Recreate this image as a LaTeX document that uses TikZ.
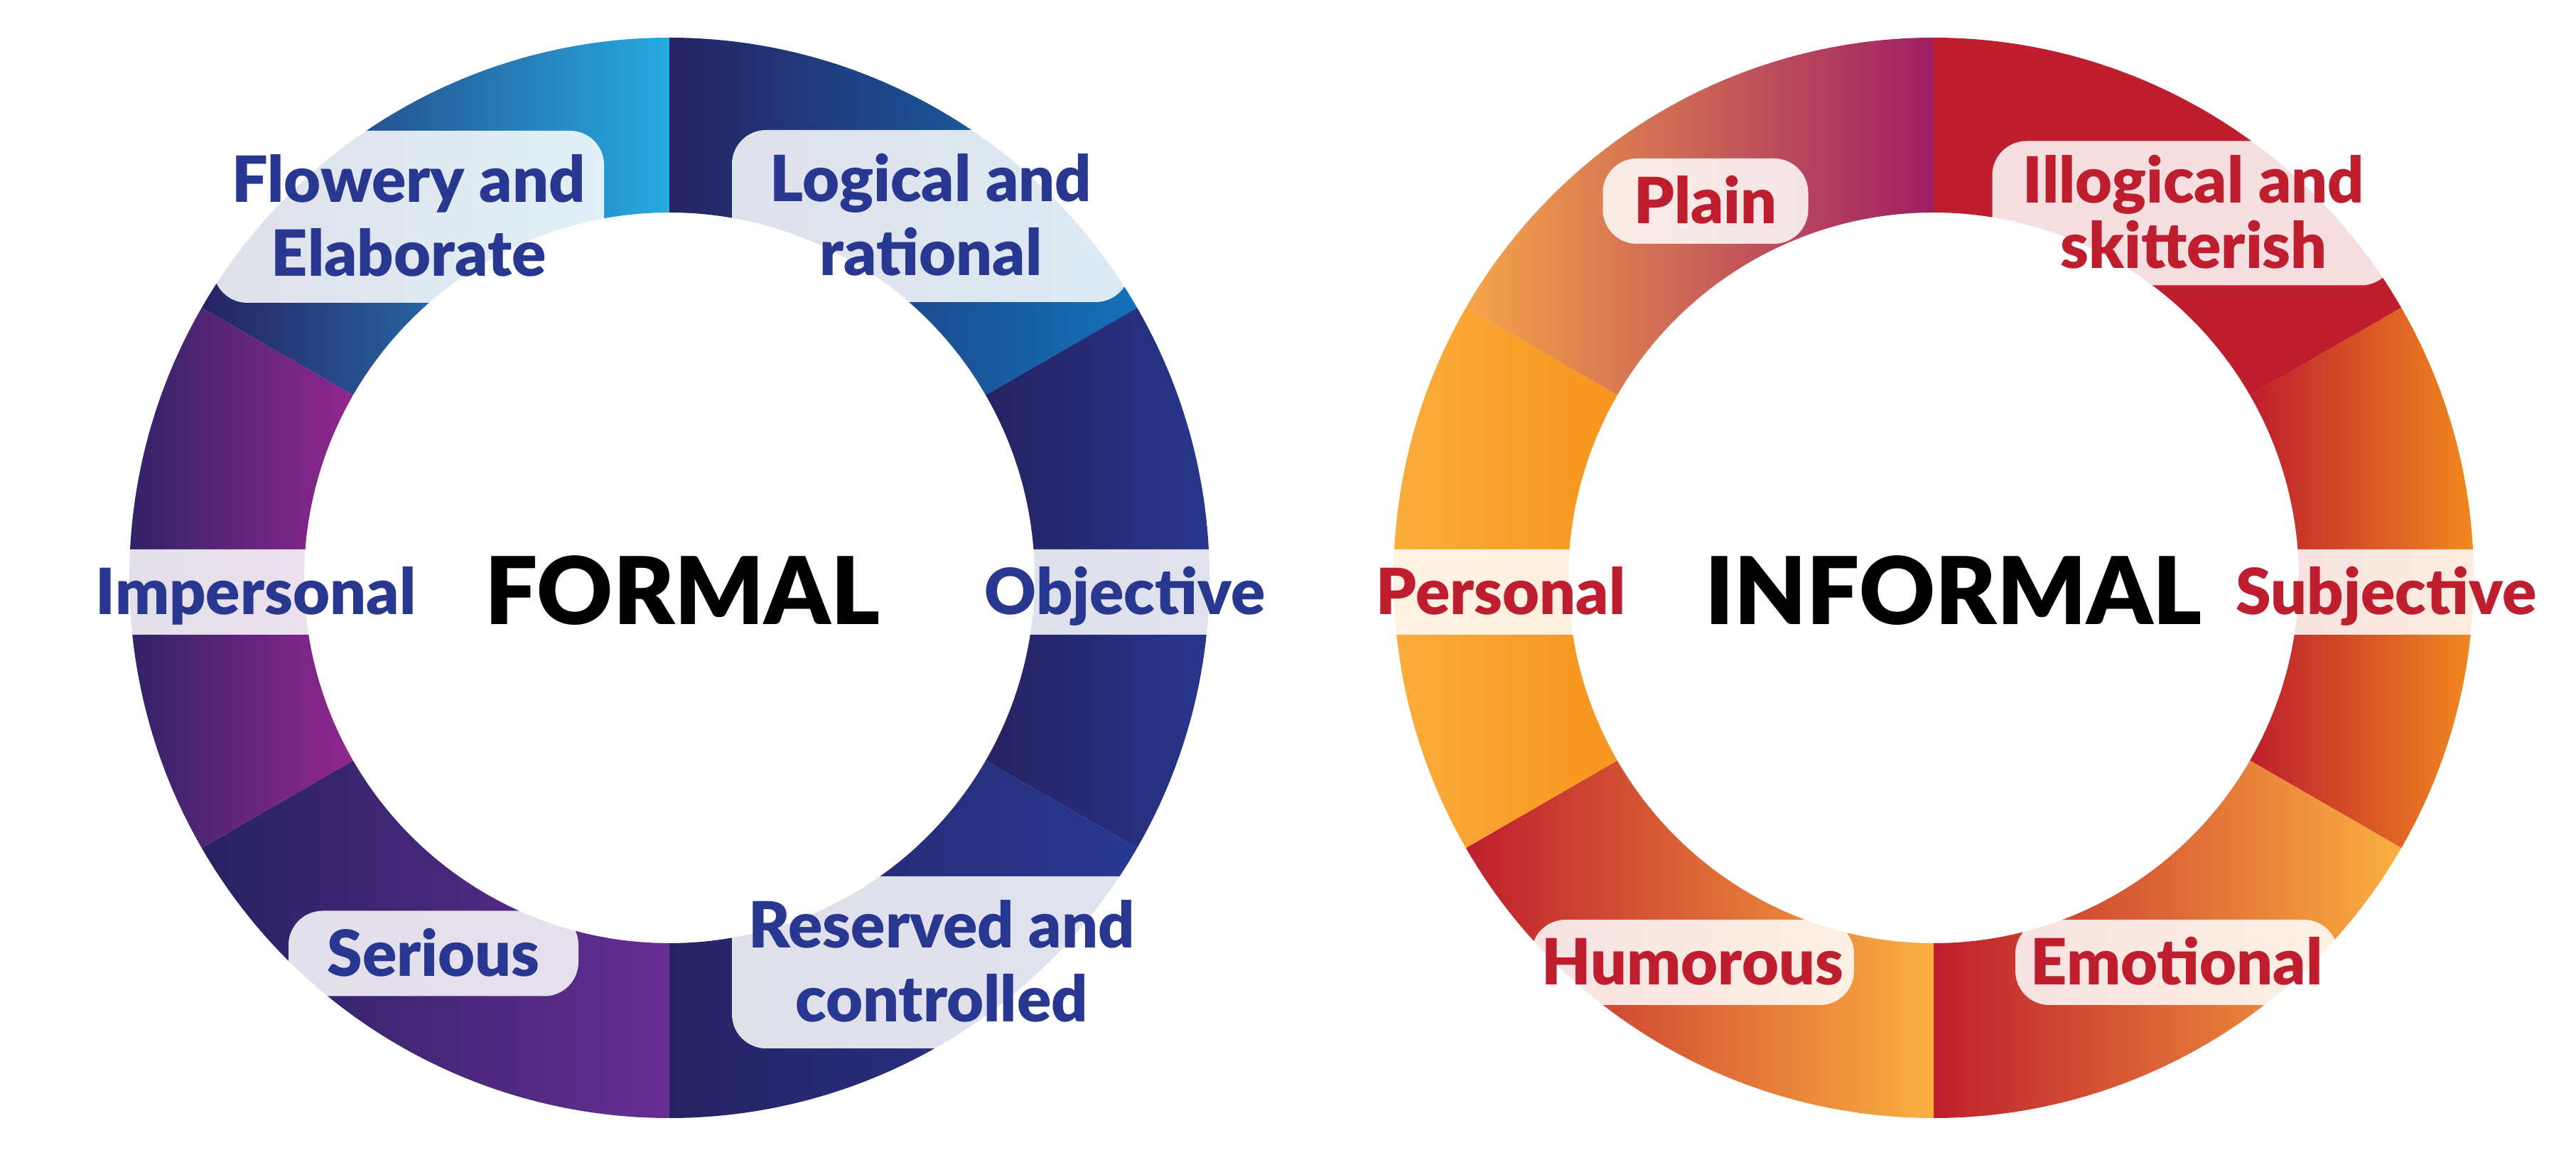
\documentclass[tikz,border=0pt]{standalone}
\usepackage{fontspec}
\setmainfont{Lato}[BoldFont={Lato Black}]
\usepackage{xcolor}
\definecolor{Navy}{HTML}{262262}
\definecolor{Cyan}{HTML}{27AAE1}
\definecolor{SkyBlue}{HTML}{1272B9}
\definecolor{RoyalBlue}{HTML}{283891}
\definecolor{Violet}{HTML}{662D91}
\definecolor{Magenta}{HTML}{92278F}
\definecolor{Crimson}{HTML}{BE1E2D}
\definecolor{Orange}{HTML}{F7941D}
\definecolor{Amber}{HTML}{FBB040}
\definecolor{Peach}{HTML}{F5A54A}
\definecolor{Plum}{HTML}{9E1F63}
\usepackage{tikz}
\usetikzlibrary{positioning}
\tikzset{
  tag/.style={
    rectangle, rounded corners=4.8mm,
    fill=white, fill opacity=0.86, text opacity=1,
    minimum width=#1, align=center,
    inner sep=0pt, font=\bfseries\fontsize{25.5}{29.6}\selectfont
  },
  tag/.default=4cm,
  one/.style={minimum height=1.2cm, text height=6.4mm, text depth=0pt},
  two/.style={minimum height=2.42cm, text height=16.8mm, text depth=0pt},
  big/.style={anchor=base, inner sep=0pt, text=black,
    font=\bfseries\fontsize{37.4}{40}\selectfont},
}

\begin{document}
\begin{tikzpicture}
\useasboundingbox (0,0) rectangle (36.25,16.25);

\coordinate (lc) at (9.42,8.12);
\coordinate (rc) at (27.21,8.12);

% Left ring: six shaded sectors
\foreach \a/\b/\cl/\cr in {90/150/Navy/Cyan, 30/90/Navy/SkyBlue,
    -30/30/Navy/RoyalBlue, -90/-30/Navy/RoyalBlue,
    210/270/Navy/Violet, 150/210/Navy/Magenta}
  \path[left color=\cl, right color=\cr]
    ([shift={(\a:7.6)}]lc) arc[start angle=\a, end angle=\b, radius=7.6]
    -- ([shift={(\b:5.14)}]lc) arc[start angle=\b, end angle=\a, radius=5.14] -- cycle;

% Right ring: six shaded sectors
\foreach \a/\b/\cl/\cr in {90/150/Peach/Plum, 30/90/Crimson/Crimson,
    -30/30/Crimson/Orange, -90/-30/Crimson/Amber,
    210/270/Crimson/Amber, 150/210/Amber/Orange}
  \path[left color=\cl, right color=\cr]
    ([shift={(\a:7.6)}]rc) arc[start angle=\a, end angle=\b, radius=7.6]
    -- ([shift={(\b:5.14)}]rc) arc[start angle=\b, end angle=\a, radius=5.14] -- cycle;

% Labels of the formal ring
\node[tag=5.5cm, two, text=RoyalBlue] at (5.75,13.20) (flowery) {Flowery and\\Elaborate};
\node[tag=5.6cm, two, text=RoyalBlue] at (13.10,13.21) (logical) {Logical and\\rational};
\node[tag=5.0cm, one, text=RoyalBlue] at (3.60,7.92) (impersonal) {Impersonal};
\node[tag=4.6cm, one, text=RoyalBlue] at (15.83,7.92) (objective) {Objective};
\node[tag=4.08cm, one, text=RoyalBlue] at (6.10,2.835) (serious) {Serious};
\node[tag=5.9cm, two, text=RoyalBlue] at (13.25,2.71) (reserved) {Reserved and\\controlled};
\node[big] at (9.60,7.46) (formal) {FORMAL};

% Labels of the informal ring
\node[tag=2.89cm, one, text=Crimson] at (24.00,13.42) (plain) {Plain};
\node[tag=5.67cm, text=Crimson, minimum height=2.03cm, text height=15.6mm, text depth=0pt,
  font=\bfseries\fontsize{25.5}{26.2}\selectfont] at (30.87,13.25) (illogical) {Illogical and\\skitterish};
\node[tag=4.0cm, one, text=Crimson] at (21.12,7.92) (personal) {Personal};
\node[tag=4.8cm, one, text=Crimson] at (33.58,7.92) (subjective) {Subjective};
\node[tag=4.54cm, one, text=Crimson] at (23.82,2.71) (humorous) {Humorous};
\node[tag=4.54cm, one, text=Crimson] at (30.63,2.71) (emotional) {Emotional};
\node[big] at (27.49,7.46) (informal) {INFORMAL};

\end{tikzpicture}
\end{document}
